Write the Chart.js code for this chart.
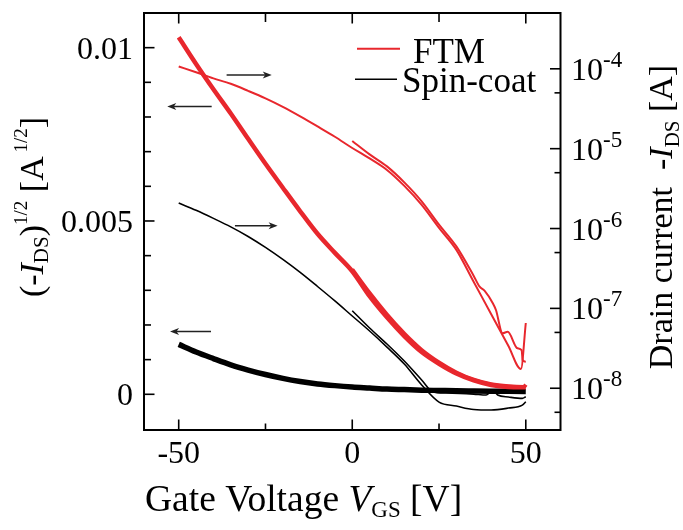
<!DOCTYPE html>
<html>
<head>
<meta charset="utf-8">
<script src="https://cdn.jsdelivr.net/npm/chart.js@4.4.1/dist/chart.umd.min.js"></script>
<style>
  html, body { margin: 0; padding: 0; background: #fff; }
  #wrap { width: 683px; height: 530px; }
</style>
</head>
<body>
<div id="wrap"><canvas id="myChart" width="683" height="530"></canvas></div>
<script>
// gate voltage (V) for the sqrt(I) curves
const vgSqrt = [-50, -45, -40, -35, -30, -25, -20, -15, -10, -5, 0, 5, 10, 15, 20, 25, 30, 35, 40, 45, 50];
const ftmSqrtA = [0.0103, 0.00953, 0.0088, 0.0081, 0.00737, 0.00665, 0.00596, 0.00528, 0.00463, 0.00408, 0.00355,
                  0.00283, 0.00222, 0.00168, 0.00122, 0.00088, 0.0006, 0.0004, 0.00027, 0.00021, 0.0002];
const spinSqrt = [0.00144, 0.00122, 0.00103, 0.00085, 0.0007, 0.00057, 0.00046, 0.00037, 0.0003, 0.00025, 0.00021,
                  0.00018, 0.00015, 0.000135, 0.00012, 0.00011, 0.0001, 0.000095, 0.00009, 0.000085, 0.00008];
// second sweep, starts at 0 V
const vgSqrtB = [0, 5, 10, 15, 20, 25, 30, 35, 40, 45, 49.5, 50];
const ftmSqrtB = [0.0036, 0.00292, 0.0023, 0.00175, 0.00128, 0.00092, 0.00063, 0.00042, 0.00029, 0.00023, 0.00021, 0.00028];

// drain current (A), log axis
const vgFtmLogA = [-50, -45, -40, -35, -30, -25, -20, -15, -10, -5, 0, 5, 10, 15, 20, 25, 30, 34.7, 40, 45, 48.6, 50];
const ftmLogA = [1.07e-4, 9.04e-5, 7.6e-5, 6.49e-5, 5.3e-5, 4.27e-5, 3.34e-5, 2.54e-5, 1.9e-5, 1.41e-5, 1.02e-5,
                 7.55e-6, 5.42e-6, 3.42e-6, 1.98e-6, 1.02e-6, 5.4e-7, 2.27e-7, 8.5e-8, 3.38e-8, 1.74e-8, 6.56e-8];
const vgFtmLogB = [0, 5, 10, 15, 20, 25, 30, 35, 36.7, 38.1, 40.5, 41.4, 43.3, 44.8, 47.6, 48.8, 49.1, 50];
const ftmLogB = [1.25e-5, 8.49e-6, 6.0e-6, 3.78e-6, 2.19e-6, 1.12e-6, 5.97e-7, 2.55e-7, 1.87e-7, 1.67e-7, 1.16e-7,
                 9.55e-8, 4.88e-8, 5.1e-8, 3.16e-8, 3.01e-8, 2.25e-8, 2.15e-8];
const vgSpinLogA = [-50, -45, -40, -35, -30, -25, -20, -15, -10, -5, 0, 5, 10, 15, 20, 25, 30, 35, 40, 45, 49, 50];
const spinLogA = [2.09e-6, 1.69e-6, 1.34e-6, 1.05e-6, 7.96e-7, 5.8e-7, 4.1e-7, 2.82e-7, 1.88e-7, 1.24e-7, 8.03e-8,
                  5.21e-8, 3.28e-8, 2.01e-8, 1.1e-8, 6.71e-9, 5.98e-9, 5.41e-9, 5.33e-9, 5.65e-9, 6.15e-9, 6.77e-9];
const vgSpinLogB = [0, 5, 10, 15, 20, 23.2, 27, 31, 35, 38.6, 40.5, 41.9, 45, 49, 50];
const spinLogB = [9.35e-8, 5.68e-8, 3.58e-8, 2.19e-8, 1.27e-8, 9.04e-9, 8.7e-9, 8.63e-9, 8.45e-9, 8.22e-9, 9.51e-9,
                  8.22e-9, 7.76e-9, 7.47e-9, 7.83e-9];

// ticks
const xTicks = [-50, 0, 50];
const xMinor = [-25, 25];
const leftTicks = [0, 0.005, 0.01];
const leftTickLabels = ['0', '0.005', '0.01'];
const leftMinor = [0.001, 0.002, 0.003, 0.004, 0.006, 0.007, 0.008, 0.009];
const rightTicks = [1e-8, 1e-7, 1e-6, 1e-5, 1e-4];
const rightExp = ['-8', '-7', '-6', '-5', '-4'];
const rightMinor = [5e-9, 5e-8, 5e-7, 5e-6, 5e-5];

// sweep-direction arrows: [x from, x to, y on left axis]
const arrowNotes = [[-36.2, -23.2, 0.00921], [-40.5, -53.3, 0.0083], [-33.8, -21.5, 0.00486], [-40.7, -52.5, 0.00181]];

const RED = '#e8272d';
const FONT = '"Liberation Serif", "Times New Roman", serif';

function pts(xs, ys) { return xs.map((x, i) => ({ x: x, y: ys[i] })); }

function fontOf(p) { return (p.it ? 'italic ' : '') + p.s + 'px ' + FONT; }
function richWidth(ctx, parts) {
  let w = 0;
  parts.forEach(p => { ctx.font = fontOf(p); w += ctx.measureText(p.t).width; });
  return w;
}
function drawRich(ctx, parts, x, y) {
  let cx = x;
  parts.forEach(p => {
    ctx.font = fontOf(p);
    ctx.fillText(p.t, cx, y + (p.dy || 0));
    cx += ctx.measureText(p.t).width;
  });
}

const decor = {
  id: 'decor',
  beforeDraw(chart) {
    const ctx = chart.ctx;
    ctx.save();
    ctx.fillStyle = '#fff';
    ctx.fillRect(0, 0, chart.width, chart.height);
    ctx.restore();
  },
  afterDatasetsDraw(chart) {
    const ctx = chart.ctx;
    const { left, right, top, bottom } = chart.chartArea;
    const sx = chart.scales.x, yl = chart.scales.yL, yr = chart.scales.yR;
    ctx.save();
    ctx.strokeStyle = '#000';
    ctx.fillStyle = '#000';

    // frame
    ctx.lineWidth = 2;
    ctx.strokeRect(left, top, right - left, bottom - top);

    function seg(x1, y1, x2, y2) { ctx.beginPath(); ctx.moveTo(x1, y1); ctx.lineTo(x2, y2); ctx.stroke(); }
    ctx.lineWidth = 1.6;
    xTicks.forEach(v => { const p = sx.getPixelForValue(v); seg(p, bottom, p, bottom - 10.5); seg(p, top, p, top + 10.5); });
    xMinor.forEach(v => { const p = sx.getPixelForValue(v); seg(p, bottom, p, bottom - 6.5); seg(p, top, p, top + 9); });
    leftTicks.forEach(v => { const p = yl.getPixelForValue(v); seg(left, p, left + 10.5, p); });
    leftMinor.forEach(v => { const p = yl.getPixelForValue(v); seg(left, p, left + 7, p); });
    rightTicks.forEach(v => { const p = yr.getPixelForValue(v); seg(right, p, right - 10.5, p); });
    rightMinor.forEach(v => { const p = yr.getPixelForValue(v); seg(right, p, right - 6, p); });

    // tick labels
    ctx.textBaseline = 'alphabetic';
    ctx.font = '32px ' + FONT;
    ctx.textAlign = 'center';
    xTicks.forEach(v => { ctx.fillText(String(v), sx.getPixelForValue(v), 463); });
    ctx.textAlign = 'right';
    leftTicks.forEach((v, i) => { ctx.fillText(leftTickLabels[i], 133, yl.getPixelForValue(v) + 11); });
    ctx.textAlign = 'left';
    rightTicks.forEach((v, i) => {
      const p = yr.getPixelForValue(v);
      drawRich(ctx, [{ t: '10', s: 32 }, { t: rightExp[i], s: 23, dy: -13 }], 571, p + 11);
    });

    // arrows
    ctx.strokeStyle = '#222';
    ctx.fillStyle = '#222';
    ctx.lineWidth = 1.5;
    arrowNotes.forEach(a => {
      const x1 = sx.getPixelForValue(a[0]), x2 = sx.getPixelForValue(a[1]), y = yl.getPixelForValue(a[2]);
      const d = Math.sign(x2 - x1);
      seg(x1, y, x2 - d * 6, y);
      ctx.beginPath();
      ctx.moveTo(x2, y);
      ctx.lineTo(x2 - d * 9, y - 3.5);
      ctx.lineTo(x2 - d * 6.5, y);
      ctx.lineTo(x2 - d * 9, y + 3.5);
      ctx.closePath();
      ctx.fill();
    });

    // legend
    ctx.strokeStyle = RED;
    ctx.lineWidth = 2;
    seg(357, 48.7, 400, 48.7);
    ctx.strokeStyle = '#000';
    ctx.lineWidth = 1.6;
    seg(355, 79.3, 397, 79.3);
    ctx.fillStyle = '#000';
    ctx.font = '35px ' + FONT;
    ctx.fillText('FTM', 413, 63);
    ctx.fillText('Spin-coat', 402, 91.5);

    // axis titles
    const bottomTitle = [{ t: 'Gate Voltage ', s: 37.5 }, { t: 'V', s: 37.5, it: true }, { t: 'GS', s: 23, dy: 6 }, { t: ' [V]', s: 37.5 }];
    drawRich(ctx, bottomTitle, 145, 511);

    const leftTitle = [{ t: '(-', s: 34 }, { t: 'I', s: 34, it: true }, { t: 'DS', s: 21, dy: 5 }, { t: ')', s: 34 },
                       { t: '1/2', s: 19, dy: -16 }, { t: ' [A', s: 34 }, { t: '\u2009' + '1/2', s: 19, dy: -16 }, { t: ']', s: 34 }];
    ctx.save();
    ctx.translate(43, 207);
    ctx.rotate(-Math.PI / 2);
    drawRich(ctx, leftTitle, -richWidth(ctx, leftTitle) / 2, 0);
    ctx.restore();

    const rightTitle = [{ t: 'Drain current  -', s: 34 }, { t: 'I', s: 34, it: true }, { t: 'DS', s: 21, dy: 7 }, { t: ' [A]', s: 34 }];
    ctx.save();
    ctx.translate(672, 217);
    ctx.rotate(-Math.PI / 2);
    drawRich(ctx, rightTitle, -richWidth(ctx, rightTitle) / 2, 0);
    ctx.restore();

    ctx.restore();
  }
};

function line(data, axis, color, width) {
  return {
    data: data, yAxisID: axis, borderColor: color, backgroundColor: color,
    borderWidth: width, pointRadius: 0, cubicInterpolationMode: 'monotone', fill: false
  };
}

const ctx = document.getElementById('myChart');
const chart = new Chart(ctx, {
  type: 'line',
  data: {
    datasets: [
      line(pts(vgFtmLogA, ftmLogA), 'yR', RED, 2),
      line(pts(vgFtmLogB, ftmLogB), 'yR', RED, 2),
      line(pts(vgSqrt, ftmSqrtA), 'yL', RED, 4.5),
      line(pts(vgSqrtB, ftmSqrtB), 'yL', RED, 4),
      line(pts(vgSpinLogA, spinLogA), 'yR', '#000', 1.6),
      line(pts(vgSpinLogB, spinLogB), 'yR', '#000', 1.6),
      line(pts(vgSqrt, spinSqrt), 'yL', '#000', 5.5)
    ]
  },
  options: {
    responsive: false,
    animation: false,
    devicePixelRatio: 1,
    layout: { padding: { left: 144, right: 122.5, top: 13, bottom: 100 } },
    plugins: { legend: { display: false }, tooltip: { enabled: false } },
    scales: {
      x: { type: 'linear', min: -60, max: 60, display: false },
      yL: { type: 'linear', position: 'left', min: -0.00103, max: 0.011, display: false },
      yR: { type: 'logarithmic', position: 'right', min: 3e-9, max: 5e-4, display: false }
    }
  },
  plugins: [decor]
});
</script>
</body>
</html>
